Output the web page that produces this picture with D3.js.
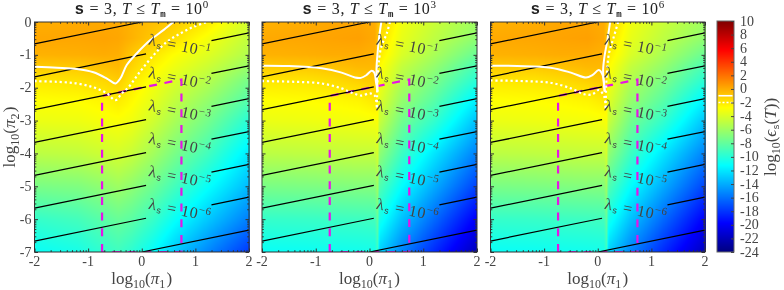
<!DOCTYPE html>
<html><head><meta charset="utf-8">
<script src="https://cdnjs.cloudflare.com/ajax/libs/d3/7.8.5/d3.min.js"></script>
<style>
html,body{margin:0;padding:0;background:#fff;overflow:hidden}
#wrap{position:relative;width:784px;height:290px}
canvas,svg{position:absolute;left:0;top:0}
text{font-family:"Liberation Serif",serif;fill:#444}
</style></head><body><div id="wrap"></div>
<script>
// ---------- data ----------
const titlesExp = ["0","3","6"];
const xTicks = [-2,-1,0,1,2];
const yTicks = [0,-1,-2,-3,-4,-5,-6,-7];
const cbTicks = [10,8,6,4,2,0,-2,-4,-6,-8,-10,-12,-14,-16,-18,-20,-22,-24];
const jetStops = [-24,-19.75,-11.25,-2.75,5.75,10];
const jetColors = ["#00007f","#0000ff","#00ffff","#ffff00","#ff0000","#7f0000"];
const rows = [0,-.5,-1,-1.35,-1.8,-2.4,-3,-4,-5,-6,-7];

const cols1 = [-2,-1.2,-.7,-.45,-.2,.2,.6,1.2,2];
const grid1 = [
[-.1,.1,.1,.1,-.2,-.6,-1,-2,-4.3],
[.2,.2,.3,.2,-.2,-.95,-1.7,-3,-4.8],
[-.2,-.1,0,-.1,-.9,-1.9,-2.8,-3.8,-5.4],
[-1,-.9,-.6,-.4,-1.3,-2.4,-3.3,-4.4,-6.2],
[-2,-1.8,-1.4,-1.1,-2,-3,-4,-5.2,-7.4],
[-2.8,-2.7,-2.4,-2.1,-2.6,-3.6,-4.8,-6.3,-8.6],
[-3.4,-3.3,-3,-2.9,-3.2,-4.3,-5.6,-7.3,-10],
[-5,-4.8,-4.4,-4.2,-4.6,-5.8,-7.2,-9,-12],
[-7.2,-7,-6.4,-6,-6.5,-7.6,-9,-11,-13.6],
[-9.5,-9,-8.2,-7.8,-8.2,-9.4,-11,-13,-15.6],
[-11,-10.5,-9.6,-9.2,-9.8,-11.2,-13,-15.2,-18]];

const cols2 = [-2,-1.2,-.7,-.2,.1,.15,.19,.6,1.2,2];
const grid2 = [
[-.2,0,.2,.2,0,-.5,-1,-3.2,-4.5,-6],
[.1,.2,.3,.4,.1,-.7,-1.6,-3.5,-4.9,-6.5],
[-.2,-.1,0,0,-.2,-1,-2.1,-4,-5.6,-7.8],
[-1,-.9,-.7,-.4,-.4,-1.2,-2.6,-4.7,-6.3,-8.9],
[-2,-1.9,-1.6,-1.2,-.9,-1.6,-3.1,-5.4,-7.2,-10],
[-2.8,-2.7,-2.6,-2.4,-2,-2.2,-3.8,-6.3,-8.3,-11.8],
[-3.4,-3.3,-3.2,-3.1,-3,-2.9,-4.6,-7.4,-9.5,-13.3],
[-5,-4.9,-4.8,-4.7,-4.7,-4.2,-6.5,-9.2,-12,-15.5],
[-7.2,-7.1,-7,-6.9,-6.9,-6,-8.6,-11.2,-14,-17.6],
[-9.5,-9.4,-9.3,-9.2,-9.1,-8,-10.6,-13.3,-16.2,-20],
[-11,-10.9,-10.8,-10.7,-10.6,-9.5,-12.8,-15.4,-18.4,-22]];

const cols3 = [-2,-1.2,-.7,-.2,.1,.15,.19,.6,1.2,2];
const grid3 = [
[-.2,0,.2,.2,0,-.5,-1,-3.2,-4.5,-6],
[.1,.2,.3,.4,.1,-.7,-1.6,-3.5,-4.9,-6.5],
[-.2,-.1,0,0,-.2,-1,-2.1,-4,-5.6,-7.8],
[-1,-.9,-.7,-.4,-.4,-1.2,-2.6,-4.7,-6.3,-8.9],
[-2,-1.9,-1.6,-1.2,-.9,-1.6,-3.1,-5.4,-7.2,-10],
[-2.8,-2.7,-2.6,-2.4,-2,-2.2,-3.8,-6.3,-8.3,-11.8],
[-3.4,-3.3,-3.2,-3.1,-3,-2.9,-4.6,-7.4,-9.5,-13.3],
[-5,-4.9,-4.8,-4.7,-4.7,-4.2,-6.5,-9.2,-12,-15.5],
[-7.2,-7.1,-7,-6.9,-6.9,-6,-8.6,-11.2,-14,-17.6],
[-9.5,-9.4,-9.3,-9.2,-9.1,-8,-10.6,-13.3,-16.2,-20],
[-11,-10.9,-10.8,-10.7,-10.6,-9.5,-12.8,-15.4,-18.4,-22]];

const solid1 = [[[-2,-1.36],[-1.58,-1.39],[-1.21,-1.43],[-.9,-1.53],[-.65,-1.72],[-.49,-1.87],[-.4,-1.72],[-.28,-1.31],[-.09,-.95],[.16,-.55],[.41,-.24],[.59,0]]];
const dotted1 = [[[-2,-1.8],[-1.58,-1.82],[-1.21,-1.87],[-.9,-1.99],[-.65,-2.17],[-.49,-2.38],[-.37,-2.17],[-.25,-1.99],[-.03,-1.51],[.22,-1.01],[.47,-.6],[.72,-.35],[.97,-.14],[1.22,0]]];
const solid2 = [
[[-2,-1.33],[-1.51,-1.34],[-.89,-1.41],[-.52,-1.54],[-.27,-1.69],[-.16,-1.7],[-.06,-1.62],[.04,-1.48],[.09,-1.54],[.12,-1.82],[.15,-2.12]],
[[.22,0],[.18,-.45],[.15,-.95],[.13,-1.46],[.14,-1.77],[.15,-2.12]]];
const dotted2 = [
[[-2,-1.8],[-1.39,-1.82],[-.89,-1.87],[-.52,-2.02],[-.3,-2.17],[-.15,-2.24],[.01,-2.17],[.1,-2.25],[.14,-2.68]],
[[.38,0],[.32,-.35],[.22,-.75],[.17,-1.26],[.15,-1.77],[.14,-2.28],[.14,-2.68]]];
const solid3 = [
[[-2,-1.33],[-1.5,-1.34],[-.88,-1.39],[-.5,-1.54],[-.22,-1.69],[-.1,-1.62],[.02,-1.46],[.09,-1.61],[.13,-2.12]],
[[.23,0],[.17,-.65],[.13,-1],[.1,-1.46],[.11,-1.8],[.13,-2.12]]];
const dotted3 = [
[[-2,-1.78],[-1.37,-1.8],[-.88,-1.85],[-.5,-2.02],[-.25,-2.2],[-.1,-2.2],[.02,-2.07],[.12,-2.27],[.15,-2.68]],
[[.38,0],[.3,-.45],[.21,-.95],[.17,-1.56],[.15,-2.38],[.15,-2.68]]];

// black lambda lines: [x0,y0,x1,y1]
const lambdaSegments = [
[-2,-.667,0,0],
[-2,-1.667,.08,-.973],[1.3,-.567,2,-.333],
[-2,-2.667,.08,-1.973],[1.3,-1.567,2,-1.333],
[-2,-3.667,.08,-2.973],[1.3,-2.567,2,-2.333],
[-2,-4.667,.08,-3.973],[1.3,-3.567,2,-3.333],
[-2,-5.667,.08,-4.973],[1.3,-4.567,2,-4.333],
[-2,-6.667,.08,-5.973],[1.3,-5.567,2,-5.333],
[0,-7,2,-6.333]];
const lambdaLabelExp = ["-1","-2","-3","-4","-5","-6"];
const lambdaLabelY = [-.77,-1.77,-2.77,-3.77,-4.77,-5.77];
const lambdaLabelX = .69;
const magentaBox = [[-.74,-7],[-.74,-2.25],[.74,-1.75],[.74,-7],[-.74,-7]];
const contourLevels = [-1,-2];

const panels = [
 {x0:34.5,x1:249,cols:cols1,grid:grid1,solid:solid1,dotted:dotted1,exp:titlesExp[0]},
 {x0:262,x1:477,cols:cols2,grid:grid2,solid:solid2,dotted:dotted2,exp:titlesExp[1]},
 {x0:490.5,x1:705,cols:cols3,grid:grid3,solid:solid3,dotted:dotted3,exp:titlesExp[2]}];
const Y0=22, Y1=252;

// ---------- drawing ----------
const jet = d3.scaleLinear().domain(jetStops).range(jetColors).clamp(true);
const wrap = d3.select("#wrap");
const W=784,H=290;
const minorOffsets=d3.range(2,10).map(k=>Math.log10(k));
const MONO="'Liberation Mono',monospace";

function drawHeat(p){
  const w=Math.round(p.x1-p.x0), h=Y1-Y0;
  const c=wrap.append("canvas").attr("width",w).attr("height",h)
    .style("left",p.x0+"px").style("top",Y0+"px").node();
  const ctx=c.getContext("2d"), img=ctx.createImageData(w,h);
  const xi=d3.scaleLinear().domain(p.cols).range(d3.range(p.cols.length)).clamp(true);
  const yi=d3.scaleLinear().domain(rows).range(d3.range(rows.length)).clamp(true);
  const x=d3.scaleLinear().domain([0,w]).range([-2,2]);
  const y=d3.scaleLinear().domain([0,h]).range([0,-7]);
  for(let j=0;j<h;j++){
    const fy=yi(y(j+.5)), r0=Math.min(Math.floor(fy),rows.length-2), ty=fy-r0;
    for(let i=0;i<w;i++){
      const fx=xi(x(i+.5)), c0=Math.min(Math.floor(fx),p.cols.length-2), tx=fx-c0;
      const g=p.grid;
      const v=(1-ty)*((1-tx)*g[r0][c0]+tx*g[r0][c0+1])+ty*((1-tx)*g[r0+1][c0]+tx*g[r0+1][c0+1]);
      const col=d3.rgb(jet(v)), k=(j*w+i)*4;
      img.data[k]=col.r;img.data[k+1]=col.g;img.data[k+2]=col.b;img.data[k+3]=255;
    }
  }
  ctx.putImageData(img,0,0);
}
panels.forEach(drawHeat);

// colour bar
const cbX=717, cbW=17;
const cbScale=d3.scaleLinear().domain([10,-24]).range([Y0-1,Y1]);
(function(){
  const h=Y1-Y0+1;
  const c=wrap.append("canvas").attr("width",cbW).attr("height",h)
    .style("left",cbX+"px").style("top",(Y0-1)+"px").node();
  const ctx=c.getContext("2d");
  for(let j=0;j<h;j++){ctx.fillStyle=jet(cbScale.invert(Y0-1+j+.5));ctx.fillRect(0,j,cbW,1);}
})();

const svg=wrap.append("svg").attr("width",W).attr("height",H);
const defs=svg.append("defs");

function mathLabel(g,base){ // log10(...)
  const t=g.append("text").attr("text-anchor","middle").attr("font-size",17);
  t.append("tspan").text("log");
  t.append("tspan").attr("dy",3.5).attr("font-size",12).text("10");
  t.append("tspan").attr("dy",-3.5).text("(");
  base(t);
  t.append("tspan").text(")");
  return t;
}
const piLabel=n=>t=>{
  t.append("tspan").style("font-style","italic").text("π");
  t.append("tspan").attr("dy",3.5).attr("font-size",12).text(n);
  t.append("tspan").attr("dy",-3.5).text("\u200a");
};

panels.forEach((p,idx)=>{
  const x=d3.scaleLinear().domain([-2,2]).range([p.x0,p.x1]);
  const y=d3.scaleLinear().domain([0,-7]).range([Y0,Y1]);
  const g=svg.append("g");
  const id="clip"+idx;
  defs.append("clipPath").attr("id",id).append("rect")
    .attr("x",p.x0).attr("y",Y0).attr("width",p.x1-p.x0).attr("height",Y1-Y0);
  const plot=g.append("g").attr("clip-path",`url(#${id})`);
  const straight=d3.line().x(d=>x(d[0])).y(d=>y(d[1]));
  const curve=d3.line().x(d=>x(d[0])).y(d=>y(d[1])).curve(d3.curveCatmullRom.alpha(.5));

  plot.append("path").attr("d",straight(magentaBox)).attr("fill","none")
    .attr("stroke","#e614e6").attr("stroke-width",2.2).attr("stroke-dasharray","8 7.7");

  plot.selectAll("path.lam").data(lambdaSegments).join("path").attr("class","lam")
    .attr("d",d=>straight([[d[0],d[1]],[d[2],d[3]]]))
    .attr("stroke","#000").attr("stroke-width",1.25).attr("fill","none");

  plot.selectAll("path.sol").data(p.solid).join("path").attr("class","sol")
    .attr("d",curve).attr("fill","none").attr("stroke","#fff").attr("stroke-width",2);
  plot.selectAll("path.dot").data(p.dotted).join("path").attr("class","dot")
    .attr("d",curve).attr("fill","none").attr("stroke","#fff").attr("stroke-width",2.2)
    .attr("stroke-dasharray","2.2 2.8");

  // lambda labels
  const angle=-Math.atan2(y(-1)-y(-2),x(1)-x(-2))*180/Math.PI;
  lambdaLabelExp.forEach((e,i)=>{
    const t=g.append("text").attr("text-anchor","middle").attr("font-size",16)
      .attr("transform",`translate(${x(lambdaLabelX)},${y(lambdaLabelY[i])+3.5}) rotate(${angle})`)
      .style("letter-spacing","0.6px");
    t.append("tspan").text("λ");
    t.append("tspan").attr("dy",2.5).attr("font-size",9).style("font-family",MONO).text("s");
    t.append("tspan").attr("dy",-2.5).text(" = 10");
    t.append("tspan").attr("dy",-6).attr("font-size",11).text("−"+e.slice(1));
  });

  // frame and ticks
  g.append("rect").attr("x",p.x0).attr("y",Y0).attr("width",p.x1-p.x0).attr("height",Y1-Y0)
    .attr("fill","none").attr("stroke","#333").attr("stroke-width",1);
  const minorX=[];xTicks.slice(0,-1).forEach(t=>minorOffsets.forEach(o=>minorX.push(t+o)));
  const minorY=[];yTicks.slice(1).forEach(t=>minorOffsets.forEach(o=>minorY.push(t+o)));
  const ax=(gen,tr)=>g.append("g").attr("transform",tr).call(gen).call(s=>{
    s.select(".domain").remove();s.selectAll("line").attr("stroke","#333");s.selectAll("text").remove();});
  const both=(vals,size)=>{
    ax(d3.axisBottom(x).tickValues(vals.x).tickSize(-size),`translate(0,${Y1})`);
    ax(d3.axisTop(x).tickValues(vals.x).tickSize(-size),`translate(0,${Y0})`);
    ax(d3.axisLeft(y).tickValues(vals.y).tickSize(-size),`translate(${p.x0},0)`);
    ax(d3.axisRight(y).tickValues(vals.y).tickSize(-size),`translate(${p.x1},0)`);
  };
  both({x:xTicks,y:yTicks},3.5);
  both({x:minorX,y:minorY},1.8);

  // x tick labels
  g.selectAll("text.xt").data(xTicks).join("text").attr("class","xt")
    .attr("x",d=>x(d)).attr("y",266).attr("text-anchor","middle").attr("font-size",14).text(d=>d);
  if(idx===0){
    g.selectAll("text.yt").data(yTicks).join("text").attr("class","yt")
      .attr("x",p.x0-3).attr("y",d=>y(d)+4.5).attr("text-anchor","end").attr("font-size",14).text(d=>d);
    const yl=svg.append("g").attr("transform",`translate(15,137) rotate(-90)`);
    mathLabel(yl,piLabel("2"));
  }
  const xl=svg.append("g").attr("transform",`translate(${(p.x0+p.x1)/2},284)`);
  mathLabel(xl,piLabel("1"));

  // title
  const t=svg.append("text").attr("x",(p.x0+p.x1)/2).attr("y",14).attr("text-anchor","middle")
    .attr("font-size",16).style("fill","#222").style("letter-spacing","0.7px");
  t.append("tspan").style("font-family",MONO).style("font-weight","bold").text("s");
  t.append("tspan").text(" = 3,  ");
  t.append("tspan").style("font-style","italic").text("T");
  t.append("tspan").text(" ≤ ");
  t.append("tspan").style("font-style","italic").text("T");
  t.append("tspan").attr("dy",2.5).attr("font-size",9).style("font-family",MONO).style("font-weight","bold").text("m");
  t.append("tspan").attr("dy",-2.5).text(" = 10");
  t.append("tspan").attr("dy",-6).attr("font-size",11).text(p.exp);
});

// colour bar overlay
const cb=svg.append("g");
contourLevels.forEach((lv,i)=>{
  cb.append("line").attr("x1",cbX+1.5).attr("x2",cbX+cbW-1.5).attr("y1",cbScale(lv)).attr("y2",cbScale(lv))
    .attr("stroke","#fff").attr("stroke-width",1.6).attr("stroke-dasharray",i?"2 2":null);
});
cb.append("rect").attr("x",cbX).attr("y",Y0-1).attr("width",cbW).attr("height",Y1-Y0+1)
  .attr("fill","none").attr("stroke","#666").attr("stroke-width",1);
cb.append("g").attr("transform",`translate(${cbX+cbW},0)`)
  .call(d3.axisLeft(cbScale).tickValues(cbTicks).tickSize(3))
  .call(s=>{s.select(".domain").remove();s.selectAll("line").attr("stroke","#444");s.selectAll("text").remove();});
cb.selectAll("text.cbt").data(cbTicks).join("text").attr("class","cbt")
  .attr("x",740).attr("y",d=>cbScale(d)+4.5).attr("font-size",14).text(d=>d);
const cbl=svg.append("g").attr("transform","translate(776,137) rotate(-90)");
const t=cbl.append("text").attr("text-anchor","middle").attr("font-size",17);
t.append("tspan").text("log");
t.append("tspan").attr("dy",3.5).attr("font-size",12).text("10");
t.append("tspan").attr("dy",-3.5).text("(");
t.append("tspan").style("font-style","italic").text("ϵ");
t.append("tspan").attr("dy",3).attr("font-size",9).style("font-family",MONO).text("s");
t.append("tspan").attr("dy",-3).text("(");
t.append("tspan").style("font-style","italic").text("T");
t.append("tspan").text("))");
</script></body></html>
